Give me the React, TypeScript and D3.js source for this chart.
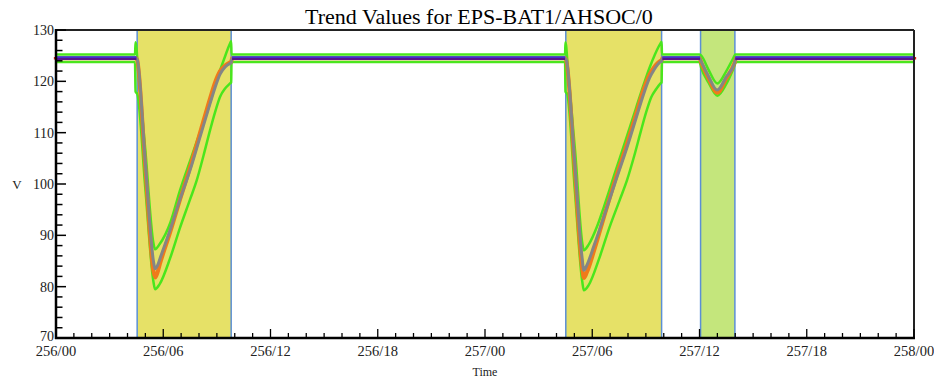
import React from "react";
import * as d3 from "d3";

type P = [number, number] | null;

// hours since 256/00
const regionStart = [4.54, 28.52, 36.06];
const regionEnd = [9.8, 33.88, 37.98];
const regionKind = ["yellow", "yellow", "green"];

const upperEnv: P[] = [
  [0, 125.25], [4.42, 125.25], [4.45, 127.6], [4.6, 122], [5.0, 106.5], [5.45, 88.5], [5.54, 87.3], [5.8, 88.3],
  [6.4, 92.5], [6.94, 98.8], [7.5, 104.5], [8.0, 109.5], [8.44, 113.8], [9.0, 120.3], [9.4, 124.3], [9.74, 127.4],
  [9.8, 127.8], [9.82, 125.25],
  [28.48, 125.25], [28.5, 127.6], [28.65, 122], [29.05, 106], [29.45, 88.3], [29.53, 87.1], [29.8, 88.2], [30.3, 92],
  [30.65, 95.5], [31.3, 102.5], [31.96, 109.5], [32.45, 114.8], [32.89, 119.5], [33.2, 122.6], [33.5, 125.2],
  [33.82, 127.4], [33.88, 127.7], [33.9, 125.25],
  [36.0, 125.25], [36.1, 125.0], [36.5, 122.3], [37.0, 119.6], [37.5, 122.0], [37.9, 124.6], [38.0, 125.25], [48, 125.25],
];

const lowerEnv: P[] = [
  [0, 123.75], [4.42, 123.75], [4.45, 118], [4.55, 117.5], [5.0, 99], [5.45, 81], [5.54, 79.5], [5.8, 80.5],
  [6.38, 85.5], [6.94, 91.5], [7.5, 97], [7.88, 100.8], [8.25, 105.5], [8.62, 110.5], [8.9, 114], [9.18, 117],
  [9.46, 118.6], [9.74, 119.6], [9.8, 119.8], [9.82, 123.75],
  [28.48, 123.75], [28.5, 118], [28.6, 117.5], [29.02, 99], [29.44, 81], [29.53, 79.3], [29.8, 80.3], [30.4, 85.6],
  [30.95, 91.4], [31.55, 97], [31.95, 100.8], [32.35, 105.5], [32.72, 110.3], [33.0, 113.8], [33.3, 116.9],
  [33.58, 118.5], [33.82, 119.6], [33.88, 119.8], [33.9, 123.75],
  [36.0, 123.75], [36.1, 122.6], [36.5, 119.8], [37.0, 117.2], [37.5, 119.5], [37.9, 122.5], [38.05, 123.75], [48, 123.75],
];

const predicted: P[] = [
  [0, 124.5], [4.5, 124.5], [4.55, 124.2], [5.0, 104], [5.45, 85], [5.54, 83.5], [5.7, 84.3], [5.82, 85.5],
  [6.38, 91], [6.94, 97], [7.5, 102.7], [8.06, 109.2], [8.62, 115.7], [8.9, 118.8], [9.18, 121.4], [9.46, 122.8],
  [9.74, 123.5], [9.8, 123.6], [9.85, 124.5],
  [28.5, 124.5], [28.55, 124.2], [29.0, 105], [29.42, 86], [29.53, 83.2], [29.7, 84.2], [30.1, 88], [30.65, 93.6],
  [31.3, 100.5], [31.96, 107.3], [32.45, 112.8], [32.89, 117.7], [33.2, 120.6], [33.45, 122.2], [33.82, 123.8],
  [33.88, 123.9], [33.92, 124.5],
  [36.0, 124.5], [36.1, 123.8], [36.5, 121.0], [36.99, 118.3], [37.5, 120.9], [37.95, 123.4], [38.05, 124.5], [48, 124.5],
];

const actual: P[] = [
  [0, 124.5], [4.5, 124.5], [4.55, 124.0], [5.0, 103], [5.45, 83], [5.55, 81.8], [5.7, 83], [5.82, 84.5],
  [6.38, 90.5], [6.94, 97], [7.5, 103.3], [8.06, 110], [8.62, 116.7], [8.9, 119.8], [9.18, 122], [9.46, 123.1],
  [9.74, 123.7], [9.8, 123.8], [9.85, 124.5],
  [28.5, 124.5], [28.55, 124.0], [29.0, 104], [29.42, 84], [29.53, 81.7], [29.7, 82.8], [30.1, 87], [30.65, 93.5],
  [31.3, 101], [31.96, 108], [32.45, 113.6], [32.89, 118.6], [33.2, 121.3], [33.45, 122.7], [33.82, 124],
  [33.88, 124.1], [33.92, 124.5],
  [36.0, 124.5], [36.1, 123.6], [36.5, 120.6], [37.0, 117.8], [37.5, 120.6], [37.95, 123.5], [38.05, 124.5], [48, 124.5],
];

const purpleFlat: P[] = [
  [0, 124.4], [4.5, 124.4], null, [9.85, 124.4], [28.48, 124.4], null,
  [33.92, 124.4], [36.03, 124.4], null, [38.0, 124.4], [48, 124.4],
];
const blueFlat: P[] = [
  [0, 124.75], [4.5, 124.75], null, [9.85, 124.75], [28.48, 124.75], null,
  [33.92, 124.75], [36.03, 124.75], null, [38.0, 124.75], [48, 124.75],
];
const redFlat: P[] = [
  [-0.12, 124.5], [4.45, 124.5], null, [9.85, 124.5], [28.45, 124.5], null,
  [33.92, 124.5], [36.0, 124.5], null, [38.05, 124.5], [48.12, 124.5],
];

const yMajor = [70, 80, 90, 100, 110, 120, 130];
const xMajor = [0, 6, 12, 18, 24, 30, 36, 42, 48];

const W = 934;
const H = 381;
const L = 56, R = 914, T = 30, B = 338;

const fmtX = (h: number) => {
  const day = 256 + Math.floor(h / 24);
  const hh = h % 24;
  return `${day}/${hh < 10 ? "0" + hh : hh}`;
};

export default function App() {
  const x = d3.scaleLinear().domain([0, 48]).range([L, R]);
  const y = d3.scaleLinear().domain([70, 130]).range([B, T]);
  const line = d3
    .line<P>()
    .defined((d) => d !== null)
    .x((d) => x((d as [number, number])[0]))
    .y((d) => y((d as [number, number])[1]));
  const smooth = d3
    .line<P>()
    .defined((d) => d !== null)
    .x((d) => x((d as [number, number])[0]))
    .y((d) => y((d as [number, number])[1]))
    .curve(d3.curveMonotoneX);

  const yMinor = d3.range(70, 130.01, 2);
  const xMinor = d3.range(0, 48.01, 1);
  const serif = "'Liberation Serif', 'Times New Roman', serif";
  const green = "#4ae61c";

  return (
    <svg
      width={W}
      height={H}
      style={{ position: "absolute", left: 0, top: 0, background: "#fff" }}
      fontFamily={serif}
    >
      <rect x={0} y={0} width={W} height={H} fill="#fff" />
      <text x={479} y={24} textAnchor="middle" fontSize={22} fill="#000">
        Trend Values for EPS-BAT1/AHSOC/0
      </text>

      {regionStart.map((s, i) => (
        <rect
          key={"r" + i}
          x={x(s)}
          y={y(130)}
          width={x(regionEnd[i]) - x(s)}
          height={y(70) - y(130)}
          fill={regionKind[i] === "yellow" ? "#e6e167" : "#c4e67c"}
          stroke="#5b8fd5"
          strokeWidth={1.5}
        />
      ))}

      <path d={line(redFlat) || ""} fill="none" stroke="#e0201a" strokeWidth={2.5} />
      <path d={smooth(upperEnv) || ""} fill="none" stroke={green} strokeWidth={2.5} strokeLinejoin="round" />
      <path d={smooth(lowerEnv) || ""} fill="none" stroke={green} strokeWidth={2.5} strokeLinejoin="round" />
      <path d={smooth(actual) || ""} fill="none" stroke="#f07a1a" strokeWidth={4} strokeLinejoin="round" />
      <path d={smooth(predicted) || ""} fill="none" stroke="#858585" strokeWidth={3} strokeLinejoin="round" />
      <path d={line(purpleFlat) || ""} fill="none" stroke="#5a128c" strokeWidth={2.5} />
      <path d={line(blueFlat) || ""} fill="none" stroke="#3030e0" strokeWidth={1.5} />

      {/* frame */}
      <line x1={L} x2={R} y1={T} y2={T} stroke="#222" strokeWidth={2} />
      <line x1={R} x2={R} y1={T} y2={B} stroke="#222" strokeWidth={2} />
      <line x1={L} x2={L} y1={T - 1} y2={B + 1} stroke="#000" strokeWidth={2.5} />
      <line x1={L - 1} x2={R + 1} y1={B} y2={B} stroke="#000" strokeWidth={2.5} />

      {/* y ticks */}
      {yMinor.map((v) => (
        <line
          key={"ym" + v}
          x1={L}
          x2={L + (yMajor.includes(Math.round(v)) ? 10 : 6.5)}
          y1={y(v)}
          y2={y(v)}
          stroke="#000"
          strokeWidth={1.5}
        />
      ))}
      {yMajor.map((v) => (
        <text
          key={"yl" + v}
          x={L - 2}
          y={y(v)}
          dy={v === 70 ? "0.2em" : "0.35em"}
          textAnchor="end"
          fontSize={14}
          fill="#222"
        >
          {v}
        </text>
      ))}

      {/* x ticks */}
      {xMinor.map((h) => (
        <line
          key={"xm" + h}
          x1={x(h)}
          x2={x(h)}
          y1={B}
          y2={B - (xMajor.includes(Math.round(h)) ? 9 : 5)}
          stroke="#000"
          strokeWidth={1.3}
        />
      ))}
      {xMajor.map((h) => (
        <text key={"xl" + h} x={x(h)} y={B + 18} textAnchor="middle" fontSize={14.5} fill="#222">
          {fmtX(h)}
        </text>
      ))}

      <text x={485} y={376} textAnchor="middle" fontSize={12} fill="#222">
        Time
      </text>
      <text x={17} y={189} textAnchor="middle" fontSize={13} fill="#222">
        V
      </text>
    </svg>
  );
}
